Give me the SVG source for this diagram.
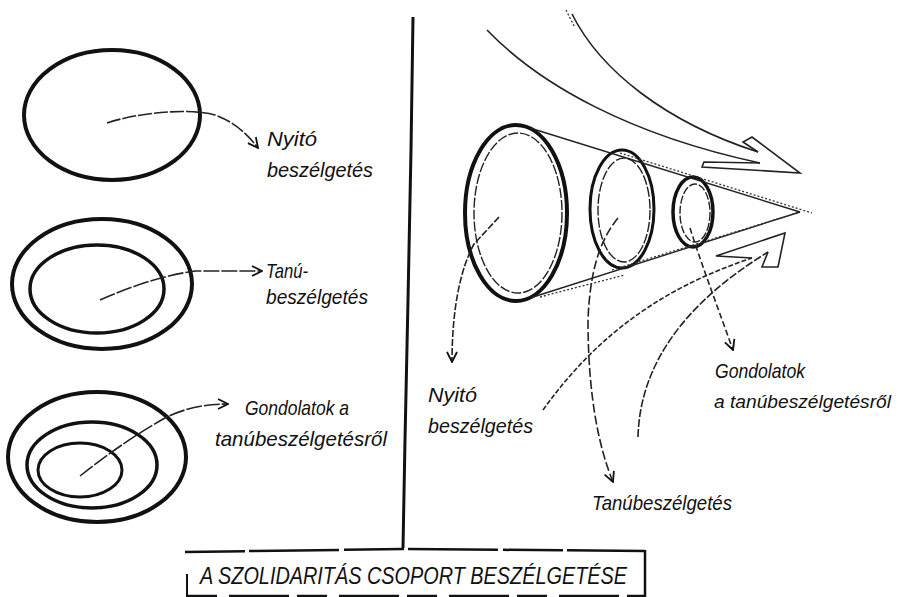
<svg xmlns="http://www.w3.org/2000/svg" width="899" height="597" viewBox="0 0 899 597">
<style>
.bg{fill:#fff}
.thick{fill:none;stroke:#111;stroke-width:4}
.mid{fill:none;stroke:#111;stroke-width:3}
.thin{fill:none;stroke:#222;stroke-width:1.4}
.dash{fill:none;stroke:#222;stroke-width:1.6;stroke-dasharray:7 2}
.dot{fill:none;stroke:#333;stroke-width:1.3;stroke-dasharray:2 2}
.lbl{font-family:"Liberation Sans",Arial,sans-serif;font-style:italic;font-size:21px;fill:#111}
.ttl{font-family:"Liberation Sans",Arial,sans-serif;font-style:italic;font-size:23px;fill:#111}
</style>
<defs>
<marker id="ah" viewBox="0 0 12 12" refX="11" refY="6" markerWidth="12" markerHeight="12" markerUnits="userSpaceOnUse" orient="auto">
<path d="M1,1 L11,6 L1,11" fill="none" stroke="#111" stroke-width="1.8"/>
</marker>
</defs>
<rect class="bg" x="0" y="0" width="899" height="597"/>

<g id="frame">
<path class="thick" d="M413,17 L411,150 L408,300 L405,440 L403,548" style="stroke-width:3"/>
<path class="mid" d="M185,552 L403,549 L645,551" style="stroke-width:2.5;stroke-dasharray:60 4 90 5"/>
<path class="mid" d="M645,550 L645,597" style="stroke-width:2.5"/>
<path class="mid" d="M187,574 L187,597" style="stroke-width:2"/>
<path class="mid" d="M187,596 L645,596" style="stroke-width:2.5;stroke-dasharray:30 12 60 8"/>
</g>

<g id="left1">
<ellipse class="thick" cx="112" cy="115" rx="88" ry="65"/>
<text class="lbl" x="267" y="146" textLength="50" lengthAdjust="spacingAndGlyphs">Nyitó</text>
<text class="lbl" x="267" y="177" textLength="106" lengthAdjust="spacingAndGlyphs">beszélgetés</text>
</g>

<g id="left2">
<ellipse class="thick" cx="102" cy="284" rx="90" ry="65"/>
<ellipse class="thick" cx="97" cy="289" rx="67" ry="44" style="stroke-width:3.5"/>
<text class="lbl" x="266" y="278" textLength="42" lengthAdjust="spacingAndGlyphs">Tanú-</text>
<text class="lbl" x="266" y="304" textLength="102" lengthAdjust="spacingAndGlyphs">beszélgetés</text>
</g>

<g id="left3">
<ellipse class="thick" cx="97" cy="457" rx="89" ry="65"/>
<ellipse class="thick" cx="92" cy="465" rx="65" ry="43" style="stroke-width:3.5"/>
<ellipse class="mid" cx="80" cy="470" rx="42" ry="27"/>
<text class="lbl" x="245" y="415" textLength="104" lengthAdjust="spacingAndGlyphs">Gondolatok a</text>
<text class="lbl" x="215" y="446" textLength="172" lengthAdjust="spacingAndGlyphs">tanúbeszélgetésről</text>
</g>

<g id="cone">
<ellipse class="thick" cx="516" cy="213" rx="51" ry="88"/>
<ellipse class="thin" cx="518" cy="213" rx="44" ry="80" style="stroke-dasharray:10 2"/>
<ellipse class="mid" cx="622" cy="209" rx="32" ry="59"/>
<ellipse class="thin" cx="624" cy="210" rx="26" ry="52" style="stroke-dasharray:10 2"/>
<ellipse class="mid" cx="693" cy="212" rx="20" ry="35" style="stroke-width:3.5"/>
<ellipse class="thin" cx="695" cy="213" rx="15" ry="29" style="stroke-dasharray:8 2"/>
<path class="thin" d="M530,128 L800,212"/>
<path class="dot" d="M620,153 L812,213"/>
<path class="thin" d="M530,298 L800,212"/>
<path class="dot" d="M612,270 L800,212"/>
<path class="dot" d="M540,297 L625,275"/>
</g>

<g id="right-labels">
<text class="lbl" x="428" y="402" textLength="49" lengthAdjust="spacingAndGlyphs">Nyitó</text>
<text class="lbl" x="428" y="433" textLength="105" lengthAdjust="spacingAndGlyphs">beszélgetés</text>
<text class="lbl" x="592" y="510" textLength="140" lengthAdjust="spacingAndGlyphs">Tanúbeszélgetés</text>
<text class="lbl" x="715" y="378" textLength="90" lengthAdjust="spacingAndGlyphs">Gondolatok</text>
<text class="lbl" x="714" y="408" textLength="177" lengthAdjust="spacingAndGlyphs" style="font-size:19px">a tanúbeszélgetésről</text>
</g>

<g id="title">
<text class="ttl" x="200" y="584" textLength="427" lengthAdjust="spacingAndGlyphs">A SZOLIDARITÁS CSOPORT BESZÉLGETÉSE</text>
</g>

<g id="connectors">
<path class="dash" style="stroke-dasharray:14 2" d="M107,123 C140,112 190,108 215,115 C235,122 248,135 258,148" marker-end="url(#ah)"/>
<path class="dash" style="stroke-dasharray:16 2" d="M100,300 C130,287 160,276 195,271 L262,271" marker-end="url(#ah)"/>
<path class="dash" style="stroke-dasharray:16 2" d="M80,476 C110,452 140,432 165,418 C185,408 205,404 228,404" marker-end="url(#ah)"/>

<path class="dash" d="M499,217 L474,244 C460,270 452,310 452,362" marker-end="url(#ah)"/>
<path class="dash" style="stroke-dasharray:9 3" d="M618,218 C600,240 590,270 588,320 C588,400 600,450 613,482" marker-end="url(#ah)"/>
<path class="dash" style="stroke-dasharray:6 3" d="M690,228 C700,260 715,300 733,350" marker-end="url(#ah)"/>

<path class="thin" style="stroke-width:1.6" d="M487,30 C540,85 630,135 760,163"/>
<path class="thin" style="stroke-width:1.6" d="M572,14 C600,70 665,122 758,152"/>
<path class="dot" d="M566,10 L574,26"/>
<path class="thin" style="stroke-width:1.6" d="M758,152 L743,142 L752,137 L800,173 L702,167 L704,162 L760,163"/>

<path class="dash" style="stroke-dasharray:5 2" d="M543,410 C600,330 670,285 752,258"/>
<path class="dash" style="stroke-dasharray:8 2" d="M638,437 C640,360 690,300 768,252"/>
<path class="thin" style="stroke-width:1.6" d="M752,258 L716,256 L785,233 L778,267 L762,267 L768,252"/>
</g>
</svg>
